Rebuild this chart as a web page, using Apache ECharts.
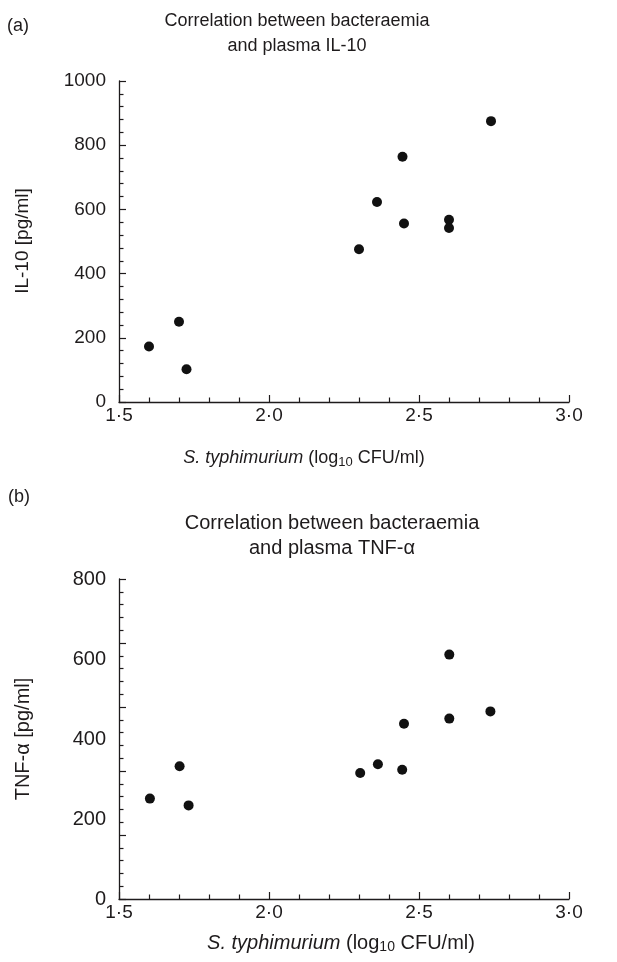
<!DOCTYPE html>
<html>
<head>
<meta charset="utf-8">
<script src="https://cdn.jsdelivr.net/npm/echarts@6/dist/echarts.min.js"></script>
<style>
html,body{margin:0;padding:0;background:#fff;}
#chart{width:617px;height:962px;}
</style>
</head>
<body>
<div id="chart"></div>
<script>
// Panel (a): IL-10
const xIL10 = [1.60, 1.70, 1.725, 2.30, 2.36, 2.445, 2.45, 2.60, 2.60, 2.74];
const yIL10 = [173, 250, 102, 476, 623, 764, 556, 568, 542, 875];
// Panel (b): TNF-alpha
const xTNF = [1.603, 1.702, 1.732, 2.304, 2.363, 2.444, 2.450, 2.601, 2.601, 2.738];
const yTNF = [251, 332, 234, 315, 337, 323, 438, 611, 451, 469];

const xTicks = [1.5, 2.0, 2.5, 3.0];
const yTicksA = [0, 200, 400, 600, 800, 1000];
const yTicksB = [0, 200, 400, 600, 800];

const titleA = ['Correlation between bacteraemia', 'and plasma IL-10'];
const titleB = ['Correlation between bacteraemia', 'and plasma TNF-\u03b1'];
const yNameA = 'IL-10 [pg/ml]';
const yNameB = 'TNF-\u03b1 [pg/ml]';

const INK = '#1e1b1c';
const FONT = 'Liberation Sans, Arial, Helvetica, sans-serif';

function xAxisCfg(gridIndex) {
  return {
    type: 'value', gridIndex: gridIndex,
    min: xTicks[0], max: xTicks[xTicks.length - 1], interval: 0.5,
    axisLine: {show: true, onZero: false, lineStyle: {color: INK, width: 1.3}},
    axisTick: {show: true, inside: true, length: 7, lineStyle: {color: INK, width: 1.2}},
    minorTick: {show: true, splitNumber: 5, length: 4.5, lineStyle: {color: INK, width: 1.2}},
    splitLine: {show: false}, minorSplitLine: {show: false},
    axisLabel: {color: INK, fontSize: 19, fontFamily: FONT, margin: 4,
      formatter: v => v.toFixed(1).replace('.', '\u00b7')}
  };
}

const sym = 10;
const chart = echarts.init(document.getElementById('chart'), null, {renderer: 'canvas'});

function txt(x, y, text, size, extra) {
  return Object.assign({
    type: 'text', x: x, y: y,
    style: {text: text, fill: INK, fontSize: size, fontFamily: FONT,
      align: 'center', verticalAlign: 'middle'}
  }, extra || {});
}

function richX(x, y, size) {
  return {
    type: 'text', x: x, y: y,
    style: {
      text: '{i|S. typhimurium} (log{s|10} CFU/ml)',
      fill: INK, fontSize: size, fontFamily: FONT, align: 'center', verticalAlign: 'middle',
      rich: {
        i: {fontStyle: 'italic', fontSize: size, fontFamily: FONT, fill: INK},
        s: {fontSize: Math.round(size * 0.7), fontFamily: FONT, fill: INK, padding: [9, 0, 0, 0]}
      }
    }
  };
}

const plainNum = v => String(v);

const option = {
  backgroundColor: '#fff',
  animation: false,
  grid: [
    {left: 119, top: 81, width: 450, height: 321},
    {left: 119, top: 579, width: 450, height: 320}
  ],
  xAxis: [xAxisCfg(0), xAxisCfg(1)],
  yAxis: [
    {
      type: 'value', gridIndex: 0, min: yTicksA[0], max: yTicksA[yTicksA.length - 1], interval: 200,
      axisLine: {show: true, lineStyle: {color: INK, width: 1.3}},
      axisTick: {show: true, inside: true, length: 7, lineStyle: {color: INK, width: 1.2}},
      minorTick: {show: true, splitNumber: 5, length: 4.5, lineStyle: {color: INK, width: 1.2}},
      splitLine: {show: false}, minorSplitLine: {show: false},
      axisLabel: {color: INK, fontSize: 19, fontFamily: FONT, margin: 13, formatter: plainNum}
    },
    {
      type: 'value', gridIndex: 1, min: yTicksB[0], max: yTicksB[yTicksB.length - 1], interval: 200,
      axisLine: {show: true, lineStyle: {color: INK, width: 1.3}},
      axisTick: {show: false},
      splitLine: {show: false},
      axisLabel: {color: INK, fontSize: 20, fontFamily: FONT, margin: 13, formatter: plainNum}
    },
    {
      // tick-mark scale as printed in panel (b)
      type: 'value', gridIndex: 1, min: 0, max: 1000, interval: 200, position: 'left',
      axisLine: {show: false},
      axisTick: {show: true, inside: true, length: 7, lineStyle: {color: INK, width: 1.2}},
      minorTick: {show: true, splitNumber: 5, length: 4.5, lineStyle: {color: INK, width: 1.2}},
      splitLine: {show: false}, minorSplitLine: {show: false},
      axisLabel: {show: false}
    }
  ],
  series: [
    {
      type: 'scatter', xAxisIndex: 0, yAxisIndex: 0, symbol: 'circle', symbolSize: sym,
      itemStyle: {color: '#111', opacity: 1},
      data: xIL10.map((x, i) => [x, yIL10[i]])
    },
    {
      type: 'scatter', xAxisIndex: 1, yAxisIndex: 1, symbol: 'circle', symbolSize: sym,
      itemStyle: {color: '#111', opacity: 1},
      data: xTNF.map((x, i) => [x, yTNF[i]])
    }
  ],
  graphic: [
    txt(18, 26, '(a)', 18),
    txt(297, 21, titleA[0], 18),
    txt(297, 46, titleA[1], 18),
    txt(23, 241, yNameA, 19, {rotation: Math.PI / 2}),
    richX(304, 458, 18),
    txt(19, 497, '(b)', 18),
    txt(332, 523, titleB[0], 20),
    txt(332, 548, titleB[1], 20),
    txt(23, 739, yNameB, 20, {rotation: Math.PI / 2}),
    richX(341, 943, 20)
  ]
};
chart.setOption(option);
</script>
</body>
</html>
